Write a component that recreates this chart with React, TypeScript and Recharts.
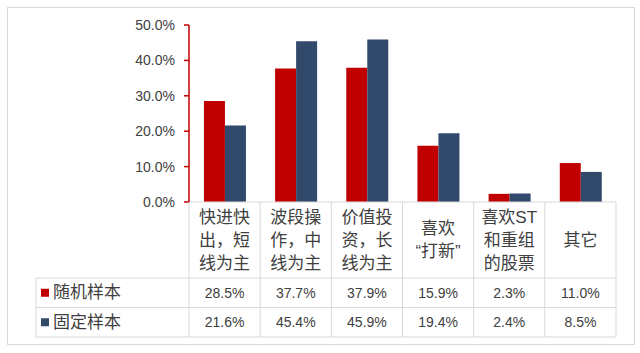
import { BarChart, Bar, XAxis, YAxis } from 'recharts';

const categories = [
  ['快进快', '出，短', '线为主'],
  ['波段操', '作，中', '线为主'],
  ['价值投', '资，长', '线为主'],
  ['喜欢', '“打新”'],
  ['喜欢ST', '和重组', '的股票'],
  ['其它'],
];
const randomSample = [0.285, 0.377, 0.379, 0.159, 0.023, 0.11];
const fixedSample = [0.216, 0.454, 0.459, 0.194, 0.024, 0.085];
const yTicks = [0, 0.1, 0.2, 0.3, 0.4, 0.5];

const SERIES = [
  { key: 'random', name: '随机样本', color: '#C00000', values: randomSample },
  { key: 'fixed', name: '固定样本', color: '#31496A', values: fixedSample },
];

const data = categories.map((lines, i) => ({
  name: lines.join(''),
  random: randomSample[i],
  fixed: fixedSample[i],
}));

// layout
const W = 640;
const H = 353;
const PLOT_L = 189;
const PLOT_R = 616;
const PLOT_B = 202;
const HEADER_B = 278;
const ROW_H = 29.5;
const LEGEND_L = 36;
const GRID = '#d9d9d9';
const TEXT = '#404040';
const FONT = '"Liberation Sans", Arial, "Noto Sans CJK SC", sans-serif';

const pct = (v: number) => `${(v * 100).toFixed(1)}%`;

const CategoryTick = (props: any) => {
  const { x, index } = props;
  const band = (PLOT_R - PLOT_L) / categories.length;
  const lines = categories[index] || [];
  const lineH = 23;
  const midY = (PLOT_B + HEADER_B) / 2;
  const startY = midY - ((lines.length - 1) * lineH) / 2;
  const tableB = HEADER_B + ROW_H * SERIES.length;

  return (
    <g>
      {index === 0 && (
        <g>
          <line x1={PLOT_L} y1={PLOT_B} x2={PLOT_L} y2={tableB} stroke={GRID} />
          <line x1={LEGEND_L} y1={HEADER_B} x2={LEGEND_L} y2={tableB} stroke={GRID} />
          {[0, 1, 2].map((r) => (
            <line
              key={`h-${r}`}
              x1={LEGEND_L}
              x2={PLOT_R}
              y1={HEADER_B + r * ROW_H}
              y2={HEADER_B + r * ROW_H}
              stroke={GRID}
            />
          ))}
          {SERIES.map((s, r) => {
            const cy = HEADER_B + r * ROW_H + ROW_H / 2;
            return (
              <g key={s.key}>
                <rect x={LEGEND_L + 5} y={cy - 4} width={8} height={8} fill={s.color} />
                <text
                  x={LEGEND_L + 17}
                  y={cy}
                  dominantBaseline="central"
                  fontSize={17}
                  fill={TEXT}
                  fontFamily={FONT}
                >
                  {s.name}
                </text>
              </g>
            );
          })}
        </g>
      )}
      <line x1={x + band / 2} y1={PLOT_B} x2={x + band / 2} y2={tableB} stroke={GRID} />
      {lines.map((l, i) => (
        <text
          key={i}
          x={x}
          y={startY + i * lineH}
          textAnchor="middle"
          dominantBaseline="central"
          fontSize={17}
          fill={TEXT}
          fontFamily={FONT}
        >
          {l}
        </text>
      ))}
      {SERIES.map((s, r) => (
        <text
          key={s.key}
          x={x}
          y={HEADER_B + r * ROW_H + ROW_H / 2}
          textAnchor="middle"
          dominantBaseline="central"
          fontSize={14}
          fill={TEXT}
          fontFamily={FONT}
        >
          {pct(s.values[index])}
        </text>
      ))}
    </g>
  );
};

export default function App() {
  return (
    <div style={{ position: 'absolute', left: 0, top: 0, width: W, height: H, background: '#fff' }}>
      <div
        style={{
          position: 'absolute',
          left: 7,
          top: 7,
          width: 628,
          height: 338,
          border: `1px solid ${GRID}`,
          boxSizing: 'border-box',
        }}
      />
      <div style={{ position: 'absolute', left: 0, top: 0 }}>
        <BarChart
          width={W}
          height={H}
          data={data}
          margin={{ top: 25, right: W - PLOT_R, left: PLOT_L - 60, bottom: 11 }}
          barCategoryGap="21%"
          barGap={0}
        >
          <XAxis
            dataKey="name"
            height={140}
            axisLine={{ stroke: GRID }}
            tickLine={false}
            interval={0}
            tick={(p: any) => <CategoryTick {...p} />}
          />
          <YAxis
            width={60}
            domain={[0, 0.5]}
            ticks={yTicks}
            tickFormatter={pct}
            axisLine={{ stroke: '#C00000', strokeWidth: 1.5 }}
            tickLine={{ stroke: '#C00000', strokeWidth: 1.5 }}
            tickSize={5}
            tickMargin={9}
            tick={{ fontSize: 14, fill: TEXT, fontFamily: FONT }}
          />
          {SERIES.map((s) => (
            <Bar key={s.key} dataKey={s.key} fill={s.color} isAnimationActive={false} />
          ))}
        </BarChart>
      </div>
    </div>
  );
}
